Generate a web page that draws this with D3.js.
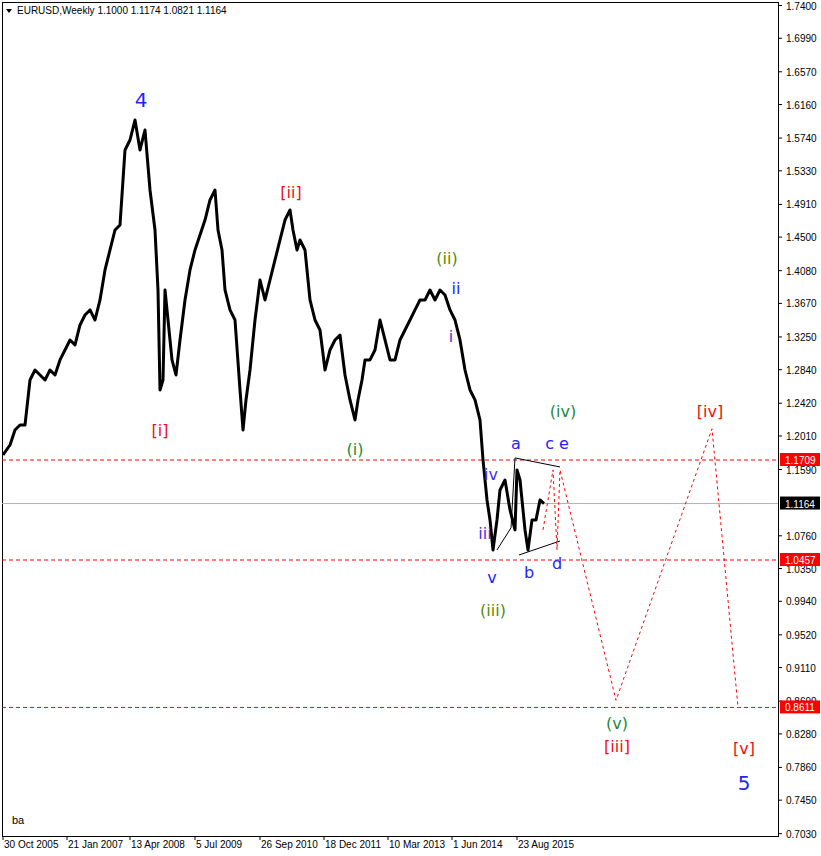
<!DOCTYPE html>
<html><head><meta charset="utf-8">
<script src="https://cdn.jsdelivr.net/npm/d3@7"></script>
<style>body{margin:0;background:#fff}svg{font-family:"Liberation Sans",Arial,sans-serif}</style>
</head><body><div id="c"></div>
<script>
// week index (from 30 Oct 2005) and approximate weekly close
const weeks=[0,7,12,17,22,27,32,37,42,47,52,57,62,67,72,77,82,87,92,97,102,107,112,117,122,127,132,137,142,147,152,155,157,160,162,165,169,173,177,182,187,192,197,202,207,212,215,219,222,227,232,237,240,243,247,252,257,262,267,272,277,282,287,290,294,297,302,307,312,317,322,327,332,337,342,347,352,355,359,362,367,372,377,382,387,392,397,402,407,412,417,422,427,432,437,442,447,452,457,462,467,472,477,480,484,487,490,494,497,502,507,512,514,517,522,525,529,533,537,541];
const closes=[1.1772,1.1897,1.2085,1.2147,1.2147,1.2711,1.2836,1.2774,1.2711,1.2836,1.2774,1.2962,1.3087,1.3212,1.3150,1.3400,1.3525,1.3588,1.3462,1.3713,1.4089,1.4339,1.4589,1.4652,1.5591,1.5716,1.5966,1.5591,1.5841,1.5090,1.4589,1.3838,1.2586,1.2711,1.3838,1.3462,1.2962,1.2774,1.3212,1.3713,1.4089,1.4339,1.4527,1.4714,1.4965,1.5090,1.4589,1.4339,1.3838,1.3588,1.3462,1.2586,1.2085,1.2461,1.2836,1.3462,1.3963,1.3713,1.3963,1.4214,1.4464,1.4714,1.4840,1.4589,1.4339,1.4464,1.4339,1.3713,1.3462,1.3337,1.2836,1.3087,1.3212,1.3274,1.2774,1.2461,1.2210,1.2461,1.2711,1.2962,1.2962,1.3087,1.3462,1.3212,1.2962,1.2962,1.3212,1.3337,1.3462,1.3588,1.3713,1.3713,1.3838,1.3713,1.3838,1.3775,1.3588,1.3462,1.3212,1.2836,1.2586,1.2461,1.2210,1.1710,1.1209,1.0959,1.0583,1.0959,1.1334,1.1459,1.1084,1.0834,1.1585,1.1459,1.0834,1.0583,1.0959,1.0959,1.1209,1.1164];
const dateTicks=[0,64,127,192,257,321,385,449,514];
const dateLabels=["30 Oct 2005","21 Jan 2007","13 Apr 2008","5 Jul 2009","26 Sep 2010","18 Dec 2011","10 Mar 2013","1 Jun 2014","23 Aug 2015"];
const priceTicks=[1.7400,1.6990,1.6570,1.6160,1.5740,1.5330,1.4910,1.4500,1.4080,1.3670,1.3250,1.2840,1.2420,1.2010,1.1590,1.0760,1.0350,0.9940,0.9520,0.9110,0.8690,0.8280,0.7860,0.7450,0.7030];
const levels=[1.1709,1.0457,0.8611];
const lastPrice=1.1164;
// forecast path (week, price)
const fcW=[540,550,554,557,613,709,735];
const fcP=[1.0834,1.1585,1.0583,1.1585,0.8700,1.2100,0.8611];
const triTopW=[512,557], triTopP=[1.1735,1.1622];
const triBotW=[516,557], triBotP=[1.0520,1.0695];
const triInW=[494,508,512], triInP=[1.0583,1.0860,1.1735];
const labels=[
 {t:"4",w:138,p:1.6130,c:"#1f1fff",s:20},
 {t:"[i]",w:157,p:1.2012,c:"#ee1111",s:16},
 {t:"[ii]",w:288,p:1.4990,c:"#ee1111",s:16},
 {t:"(i)",w:352,p:1.1772,c:"#1a8a3a",s:16},
 {t:"(ii)",w:444,p:1.4164,c:"#5a8a00",s:16},
 {t:"ii",w:453,p:1.3788,c:"#2323ff",s:16},
 {t:"i",w:448,p:1.3187,c:"#5533dd",s:16},
 {t:"iv",w:488,p:1.1460,c:"#4433ee",s:16},
 {t:"iii",w:482,p:1.0720,c:"#4433ee",s:16},
 {t:"v",w:489,p:1.0170,c:"#2323ff",s:16},
 {t:"(iii)",w:490,p:0.9757,c:"#5a8a00",s:16},
 {t:"a",w:513,p:1.1847,c:"#2323ff",s:16},
 {t:"c e",w:554,p:1.1847,c:"#2323ff",s:16},
 {t:"b",w:526,p:1.0232,c:"#2323ff",s:16},
 {t:"d",w:554,p:1.0344,c:"#2323ff",s:16},
 {t:"(iv)",w:560,p:1.2249,c:"#1a8a3a",s:16},
 {t:"[iv]",w:707,p:1.2249,c:"#ee1111",s:16},
 {t:"(v)",w:614,p:0.8342,c:"#1a8a3a",s:16},
 {t:"[iii]",w:614,p:0.8054,c:"#ee1111",s:16},
 {t:"[v]",w:741,p:0.8029,c:"#ee1111",s:16},
 {t:"5",w:741,p:0.7578,c:"#1f1fff",s:20}
];
const W=821,H=856,L=2,R=778,T=2,B=836;
const svg=d3.select("#c").append("svg").attr("width",W).attr("height",H);
const x=d3.scaleLinear().domain([0,775]).range([3,778]);
const y=d3.scaleLinear().domain([0.7030,1.7400]).range([833.7,5.5]);
svg.append("rect").attr("x",L+0.5).attr("y",T+0.5).attr("width",R-L).attr("height",B-T).attr("fill","none").attr("stroke","#000");
svg.selectAll(".lv").data(levels).join("line").attr("x1",L).attr("x2",R).attr("y1",d=>y(d)).attr("y2",d=>y(d)).attr("stroke","#ff0000").attr("stroke-dasharray","4,3");
svg.append("line").attr("x1",L).attr("x2",R).attr("y1",y(lastPrice)).attr("y2",y(lastPrice)).attr("stroke","#b8b0b8");
const line=d3.line().x((d,i)=>x(weeks[i])).y(d=>y(d));
svg.append("path").datum(closes).attr("d",line).attr("fill","none").attr("stroke","#000").attr("stroke-width",3).attr("stroke-linejoin","round");
const pl=(ws,ps)=>ws.map((w,i)=>[x(w),y(ps[i])]);
[[triTopW,triTopP],[triBotW,triBotP],[triInW,triInP]].forEach(([w,p])=>svg.append("path").attr("d",d3.line()(pl(w,p))).attr("stroke","#000").attr("fill","none"));
svg.append("path").attr("d",d3.line()(pl(fcW,fcP))).attr("stroke","#ff0000").attr("fill","none").attr("stroke-dasharray","3,3");
svg.selectAll(".lb").data(labels).join("text").attr("x",d=>x(d.w)).attr("y",d=>y(d.p)).attr("text-anchor","middle").attr("fill",d=>d.c).attr("font-size",d=>d.s).attr("font-family","Verdana,'DejaVu Sans',sans-serif").text(d=>d.t);
const ya=svg.append("g").attr("font-size",10);
priceTicks.forEach(p=>{ya.append("line").attr("x1",R).attr("x2",R+4).attr("y1",y(p)).attr("y2",y(p)).attr("stroke","#000");
 ya.append("text").attr("x",R+8).attr("y",y(p)+4).text(p.toFixed(4));});
levels.concat([lastPrice]).forEach(p=>{ya.append("rect").attr("x",R+2).attr("y",y(p)-7).attr("width",40).attr("height",13).attr("fill",p===lastPrice?"#000":"#ff0000");
 ya.append("text").attr("x",R+7).attr("y",y(p)+4).attr("fill","#fff").text(p.toFixed(4));});
const xa=svg.append("g").attr("font-size",10);
dateTicks.forEach((w,i)=>{xa.append("line").attr("x1",x(w)).attr("x2",x(w)).attr("y1",B).attr("y2",B+4).attr("stroke","#000");
 xa.append("text").attr("x",x(w)+1).attr("y",B+12).text(dateLabels[i]);});
svg.append("text").attr("x",12).attr("y",824).attr("font-size",11).text("ba");
svg.append("path").attr("d","M6,9L12,9L9,13Z").attr("fill","#000");
svg.append("text").attr("x",17).attr("y",14).attr("font-size",10).text("EURUSD,Weekly  1.1000 1.1174 1.0821 1.1164");
</script></body></html>
